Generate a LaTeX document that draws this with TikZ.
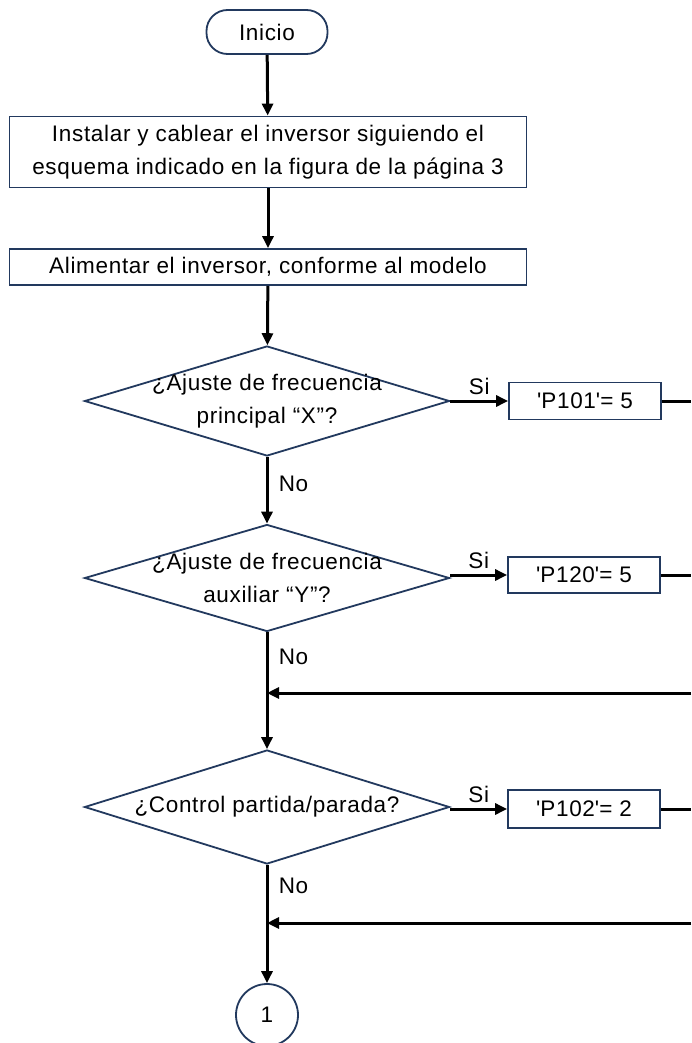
\documentclass[tikz,border=0pt]{standalone}
\usepackage{fontspec}
\setmainfont{Liberation Sans}[LetterSpace=3]
\usetikzlibrary{shapes.geometric,arrows.meta,positioning}
\definecolor{navy}{HTML}{22395E}
\begin{document}
\begin{tikzpicture}[x=1pt,y=1pt,
    txt/.style={font=\fontsize{22.5}{33}\selectfont},
    box/.style={txt,draw=navy,line width=1.8pt,fill=white,inner sep=0pt,align=center},
    terminal/.style={box,rounded corners=21pt,minimum width=121,minimum height=44},
    decision/.style={draw=navy,line width=1.8pt,fill=white,diamond,inner sep=0pt,minimum width=365},
    flow/.style={line width=3pt,-{Triangle[length=12pt,width=11pt]}},
    link/.style={line width=3pt}]
    \useasboundingbox (0,0) rectangle (691,-1043);
    % main column
    \node[terminal] (inicio) at (267,-32) {Inicio};
    \node[box,minimum width=517,minimum height=71] (instalar) at (268,-152)
        {Instalar y cablear el inversor siguiendo el\\esquema indicado en la figura de la página 3};
    \node[box,minimum width=517,minimum height=36] (alimentar) at (268,-267)
        {Alimentar el inversor, conforme al modelo};
    \node[decision,minimum height=110,label={[txt,align=center]center:{¿Ajuste de frecuencia\\principal “X”?}}] (frecx) at (267,-401) {};
    \node[decision,minimum height=107,label={[txt,align=center]center:{¿Ajuste de frecuencia\\auxiliar “Y”?}}] (frecy) at (267,-578) {};
    \node[decision,minimum height=114,label={[txt]center:{¿Control partida/parada?}}] (partida) at (267,-807) {};
    \node[box,circle,minimum size=62] (uno) at (267,-1015) {1};
    % parameter boxes
    \node[box,minimum width=152,minimum height=37] (p101) at (585,-401) {\textquotesingle P101\textquotesingle= 5};
    \node[box,minimum width=152,minimum height=36] (p120) at (584,-575) {\textquotesingle P120\textquotesingle= 5};
    \node[box,minimum width=152,minimum height=38] (p102) at (584,-809) {\textquotesingle P102\textquotesingle= 2};
    % page edge
    \coordinate (sal1) at (691,-401);
    \coordinate (sal2) at (691,-575);
    \coordinate (sal3) at (691,-809);
    \coordinate (ret1) at (691,-693);
    \coordinate (ret2) at (691,-923);
    % connectors
    \draw[flow] (inicio) -- (instalar);
    \draw[flow] (instalar) -- (alimentar);
    \draw[flow] (alimentar) -- (frecx);
    \draw[flow] (frecx) -- node[pos=0.4,right=7pt,txt] {No} (frecy);
    \draw[flow] (frecy) -- node[pos=0.21,right=7pt,txt] {No} (partida);
    \draw[flow] (partida) -- node[pos=0.18,right=7pt,txt] {No} (uno);
    \draw[flow] (frecx.east) -- node[above=1pt,txt] {Si} (p101);
    \draw[flow] (frecy.east |- p120) -- node[above=1pt,txt] {Si} (p120);
    \draw[flow] (partida.east |- p102) -- node[above=1pt,txt] {Si} (p102);
    \draw[link] (p101) -- (sal1);
    \draw[link] (p120) -- (sal2);
    \draw[link] (p102) -- (sal3);
    \draw[flow] (ret1) -- (ret1 -| uno);
    \draw[flow] (ret2) -- (ret2 -| uno);
\end{tikzpicture}
\end{document}
